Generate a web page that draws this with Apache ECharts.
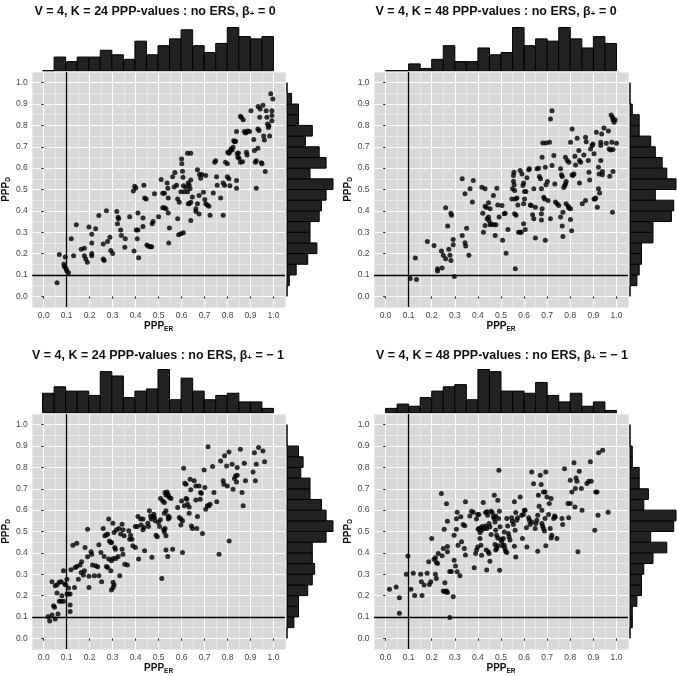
<!DOCTYPE html>
<html>
<head>
<meta charset="utf-8">
<script src="https://cdn.jsdelivr.net/npm/echarts@6/dist/echarts.min.js"></script>
<style>html,body{margin:0;padding:0;background:#fff}#chart{width:677px;height:676px}</style>
</head>
<body>
<div id="chart"></div>
<script>
// 4 panels: PPP_ER (x) vs PPP_D (y) with marginal histograms
var titles = [
  'V = 4, K = 24 PPP-values : no ERS, β{s|+} = 0',
  'V = 4, K = 48 PPP-values : no ERS, β{s|+} = 0',
  'V = 4, K = 24 PPP-values : no ERS, β{s|+} = − 1',
  'V = 4, K = 48 PPP-values : no ERS, β{s|+} = − 1'
];
var tickValues = [0, 0.1, 0.2, 0.3, 0.4, 0.5, 0.6, 0.7, 0.8, 0.9, 1.0];
var refLine = 0.1;

// top histograms: counts per 0.05 bin of PPP_ER (0..1)
var topHist1 = [0, 6, 4, 6, 6, 9, 7, 5, 13, 7, 11, 14, 18, 11, 8, 12, 19, 15, 14, 15];
var topHist2 = [0, 0, 3, 1, 5, 11, 4, 4, 10, 7, 8, 19, 11, 14, 13, 19, 14, 10, 15, 12];
var topHist3 = [9, 12, 10, 10, 8, 19, 17, 7, 10, 11, 20, 6, 16, 10, 6, 8, 9, 5, 5, 2];
var topHist4 = [2, 4, 3, 7, 10, 12, 13, 6, 20, 19, 10, 10, 9, 14, 8, 5, 9, 3, 5, 1];
// right histograms: counts per 0.05 bin of PPP_D (0..1)
var rightHist1 = [0, 1, 4, 9, 13, 10, 10, 14, 15, 17, 20, 10, 17, 14, 8, 11, 5, 5, 2, 0];
var rightHist2 = [0, 3, 4, 5, 5, 10, 10, 18, 19, 11, 20, 16, 14, 11, 9, 4, 4, 1, 0, 0];
var rightHist3 = [0, 3, 5, 5, 9, 11, 12, 11, 11, 17, 20, 17, 15, 10, 10, 6, 7, 5, 0, 0];
var rightHist4 = [0, 1, 1, 3, 5, 5, 6, 10, 16, 9, 19, 20, 6, 8, 4, 4, 1, 1, 0, 0];

var pts1 = [
[0.058,0.064],[0.068,0.196],[0.094,0.184],[0.088,0.15],[0.09,0.14],[0.097,0.13],[0.1,0.12],[0.108,0.11],
[0.12,0.27],[0.13,0.19],[0.142,0.335],[0.163,0.22],[0.177,0.225],[0.177,0.19],[0.183,0.175],[0.19,0.16],
[0.197,0.324],[0.209,0.29],[0.209,0.25],[0.209,0.2],[0.209,0.19],[0.226,0.316],[0.24,0.378],
[0.259,0.245],[0.259,0.175],[0.263,0.168],[0.273,0.4],[0.278,0.257],[0.288,0.276],[0.292,0.214],[0.3,0.2],
[0.318,0.397],[0.324,0.37],[0.326,0.363],[0.321,0.34],[0.335,0.31],[0.338,0.285],[0.355,0.27],[0.353,0.23],
[0.374,0.372],[0.393,0.212],[0.39,0.493],[0.396,0.515],[0.401,0.507],[0.403,0.31],[0.407,0.27],[0.41,0.31],
[0.41,0.39],[0.413,0.18],[0.432,0.367],[0.432,0.327],[0.436,0.52],[0.439,0.46],[0.446,0.455],[0.449,0.24],
[0.456,0.234],[0.465,0.232],[0.47,0.232],[0.472,0.34],[0.476,0.35],[0.482,0.48],[0.5,0.372],
[0.511,0.547],[0.518,0.483],[0.525,0.483],[0.518,0.414],[0.525,0.414],[0.532,0.41],[0.537,0.53],[0.54,0.506],
[0.542,0.46],[0.542,0.39],[0.547,0.32],[0.544,0.25],
[0.561,0.56],[0.568,0.512],[0.571,0.58],[0.578,0.52],[0.583,0.456],[0.583,0.363],[0.587,0.288],[0.597,0.293],[0.608,0.298],
[0.6,0.643],[0.601,0.62],[0.604,0.585],[0.606,0.557],[0.608,0.517],[0.611,0.49],[0.597,0.49],[0.59,0.44],
[0.618,0.51],[0.626,0.49],[0.629,0.53],[0.633,0.52],[0.637,0.505],[0.64,0.545],
[0.626,0.67],[0.64,0.67],[0.629,0.433],[0.633,0.433],[0.64,0.44],[0.64,0.355],[0.647,0.465],
[0.662,0.41],[0.669,0.433],[0.662,0.397],[0.669,0.593],[0.678,0.57],[0.683,0.553],[0.688,0.57],[0.676,0.472],[0.676,0.385],
[0.695,0.487],[0.701,0.453],[0.705,0.565],[0.705,0.433],[0.712,0.428],[0.719,0.422],[0.724,0.38],
[0.738,0.484],[0.744,0.628],[0.748,0.635],[0.752,0.56],[0.755,0.52],[0.77,0.46],[0.781,0.38],[0.781,0.53],[0.787,0.52],
[0.791,0.628],[0.799,0.62],[0.801,0.674],[0.806,0.67],[0.81,0.678],[0.799,0.56],[0.806,0.55],[0.81,0.518],
[0.815,0.69],[0.82,0.685],[0.824,0.698],[0.827,0.728],[0.831,0.724],[0.835,0.726],[0.839,0.771],
[0.842,0.667],[0.845,0.651],[0.847,0.671],[0.85,0.646],[0.839,0.542],[0.839,0.506],[0.856,0.628],[0.865,0.63],
[0.856,0.843],[0.86,0.838],[0.868,0.827],[0.873,0.771],[0.878,0.765],[0.882,0.768],[0.888,0.774],[0.896,0.771],
[0.882,0.674],[0.885,0.662],[0.902,0.869],[0.914,0.734],[0.917,0.682],[0.921,0.628],[0.925,0.635],[0.925,0.506],
[0.932,0.693],[0.932,0.783],[0.937,0.776],[0.933,0.889],[0.94,0.838],[0.942,0.877],[0.947,0.625],[0.95,0.62],
[0.954,0.894],[0.957,0.75],[0.96,0.732],[0.964,0.584],[0.968,0.869],[0.971,0.838],[0.974,0.807],[0.978,0.79],[0.98,0.798],[0.983,0.751],
[0.993,0.869],[0.993,0.846],[0.993,0.822],[0.997,0.924],[0.988,0.948]
];

var pts2 = [
[0.107,0.083],[0.134,0.079],[0.129,0.179],[0.181,0.257],[0.21,0.238],[0.225,0.129],[0.225,0.118],[0.245,0.132],
[0.242,0.212],[0.25,0.192],[0.26,0.176],[0.26,0.414],[0.269,0.329],[0.274,0.22],[0.279,0.192],[0.283,0.168],
[0.283,0.389],[0.286,0.379],[0.293,0.266],[0.293,0.241],[0.298,0.093],[0.332,0.55],[0.332,0.285],[0.344,0.48],
[0.344,0.251],[0.347,0.235],[0.351,0.319],[0.366,0.503],[0.361,0.192],[0.376,0.441],[0.38,0.542],[0.417,0.511],
[0.431,0.503],[0.421,0.389],[0.424,0.3],[0.431,0.332],[0.431,0.422],[0.437,0.416],[0.44,0.363],[0.446,0.371],
[0.448,0.355],[0.453,0.335],[0.457,0.34],[0.446,0.438],[0.453,0.41],[0.467,0.472],[0.469,0.335],[0.478,0.335],
[0.475,0.285],[0.482,0.506],[0.486,0.428],[0.492,0.371],[0.504,0.425],[0.507,0.262],[0.514,0.386],[0.518,0.389],
[0.522,0.202],[0.53,0.313],[0.547,0.456],[0.55,0.503],[0.554,0.539],[0.554,0.565],[0.556,0.581],[0.557,0.522],
[0.559,0.495],[0.562,0.456],[0.562,0.129],[0.559,0.386],[0.565,0.379],[0.569,0.46],[0.573,0.428],[0.576,0.3],
[0.582,0.3],[0.588,0.3],[0.583,0.589],[0.591,0.573],[0.595,0.519],[0.598,0.531],[0.602,0.491],[0.608,0.491],
[0.602,0.456],[0.598,0.433],[0.598,0.34],[0.605,0.313],[0.612,0.555],[0.62,0.593],[0.623,0.597],[0.627,0.428],
[0.631,0.425],[0.637,0.382],[0.642,0.363],[0.642,0.503],[0.649,0.273],[0.649,0.417],[0.656,0.597],[0.663,0.6],
[0.666,0.561],[0.671,0.55],[0.675,0.503],[0.678,0.41],[0.675,0.386],[0.675,0.357],[0.678,0.651],[0.681,0.718],
[0.695,0.718],[0.685,0.464],[0.689,0.456],[0.692,0.604],[0.695,0.522],[0.701,0.537],[0.692,0.262],[0.704,0.449],
[0.71,0.721],[0.714,0.83],[0.721,0.869],[0.714,0.363],[0.721,0.612],[0.729,0.659],[0.733,0.526],[0.736,0.441],
[0.743,0.433],[0.75,0.425],[0.758,0.597],[0.762,0.569],[0.765,0.561],[0.758,0.371],[0.768,0.394],[0.765,0.329],
[0.768,0.28],[0.772,0.509],[0.776,0.519],[0.779,0.526],[0.782,0.537],[0.779,0.651],[0.787,0.636],[0.794,0.628],
[0.782,0.433],[0.791,0.422],[0.794,0.413],[0.801,0.41],[0.801,0.721],[0.808,0.783],[0.801,0.36],[0.806,0.307],
[0.808,0.569],[0.811,0.565],[0.816,0.573],[0.82,0.656],[0.823,0.615],[0.83,0.74],[0.837,0.682],[0.84,0.636],
[0.845,0.628],[0.84,0.531],[0.852,0.433],[0.866,0.449],[0.859,0.662],[0.866,0.745],[0.869,0.724],[0.878,0.636],
[0.881,0.581],[0.884,0.545],[0.888,0.69],[0.895,0.706],[0.898,0.713],[0.903,0.667],[0.903,0.456],[0.907,0.456],
[0.91,0.46],[0.913,0.768],[0.917,0.417],[0.922,0.503],[0.927,0.484],[0.922,0.604],[0.925,0.573],[0.932,0.706],
[0.932,0.721],[0.932,0.636],[0.936,0.76],[0.939,0.569],[0.939,0.584],[0.946,0.788],[0.956,0.717],[0.965,0.774],
[0.968,0.69],[0.975,0.685],[0.971,0.562],[0.977,0.849],[0.983,0.838],[0.985,0.827],[0.99,0.815],[0.994,0.827],
[0.98,0.721],[0.985,0.687],[0.983,0.394],[0.985,0.584],[1.0,0.717]
];

var pts3 = [
[0.019,0.101],[0.026,0.081],[0.036,0.109],[0.05,0.09],[0.062,0.114],[0.036,0.265],[0.043,0.153],[0.047,0.145],
[0.05,0.246],[0.058,0.251],[0.058,0.212],[0.068,0.262],[0.076,0.265],[0.068,0.173],[0.076,0.173],[0.086,0.173],
[0.079,0.199],[0.086,0.316],[0.091,0.254],[0.096,0.251],[0.101,0.277],[0.101,0.207],[0.108,0.207],[0.115,0.207],
[0.108,0.235],[0.115,0.156],[0.115,0.125],[0.119,0.321],[0.127,0.436],[0.144,0.445],[0.134,0.238],[0.137,0.332],
[0.144,0.336],[0.151,0.277],[0.158,0.343],[0.165,0.358],[0.163,0.308],[0.173,0.296],[0.177,0.316],[0.18,0.425],
[0.191,0.511],[0.191,0.382],[0.197,0.29],[0.197,0.238],[0.206,0.405],[0.209,0.394],[0.212,0.343],[0.22,0.293],
[0.226,0.34],[0.235,0.335],[0.24,0.438],[0.24,0.293],[0.249,0.402],[0.252,0.265],[0.259,0.514],[0.266,0.48],
[0.273,0.484],[0.278,0.488],[0.263,0.383],[0.273,0.336],[0.278,0.332],[0.283,0.558],[0.286,0.456],[0.292,0.449],
[0.295,0.449],[0.283,0.371],[0.295,0.363],[0.302,0.374],[0.292,0.316],[0.302,0.262],[0.306,0.249],[0.295,0.226],
[0.302,0.238],[0.301,0.539],[0.306,0.495],[0.309,0.425],[0.312,0.417],[0.317,0.508],[0.314,0.374],[0.324,0.383],
[0.327,0.514],[0.331,0.293],[0.335,0.488],[0.341,0.534],[0.345,0.508],[0.35,0.48],[0.341,0.417],[0.345,0.394],
[0.353,0.347],[0.364,0.343],[0.37,0.503],[0.374,0.464],[0.378,0.483],[0.384,0.464],[0.388,0.433],[0.399,0.425],
[0.399,0.523],[0.407,0.523],[0.41,0.57],[0.413,0.371],[0.422,0.558],[0.424,0.53],[0.432,0.508],[0.436,0.519],
[0.432,0.558],[0.439,0.41],[0.453,0.539],[0.456,0.523],[0.46,0.597],[0.465,0.573],[0.468,0.558],[0.471,0.379],
[0.475,0.57],[0.479,0.581],[0.482,0.565],[0.485,0.55],[0.489,0.483],[0.494,0.475],[0.499,0.542],[0.504,0.523],
[0.508,0.555],[0.508,0.654],[0.518,0.643],[0.522,0.508],[0.525,0.498],[0.528,0.514],[0.514,0.28],[0.525,0.636],
[0.528,0.682],[0.532,0.671],[0.537,0.685],[0.54,0.674],[0.542,0.667],[0.547,0.659],[0.554,0.654],[0.525,0.586],
[0.532,0.597],[0.532,0.48],[0.532,0.413],[0.54,0.383],[0.542,0.573],[0.542,0.558],[0.547,0.565],[0.561,0.417],
[0.583,0.612],[0.59,0.565],[0.597,0.558],[0.604,0.55],[0.597,0.53],[0.6,0.643],[0.604,0.402],[0.609,0.796],
[0.612,0.62],[0.614,0.726],[0.619,0.721],[0.619,0.654],[0.623,0.651],[0.626,0.628],[0.633,0.615],[0.633,0.586],
[0.637,0.745],[0.64,0.695],[0.643,0.526],[0.647,0.514],[0.655,0.737],[0.662,0.713],[0.662,0.648],[0.666,0.514],
[0.669,0.57],[0.676,0.713],[0.681,0.651],[0.683,0.682],[0.686,0.679],[0.691,0.491],[0.698,0.788],[0.701,0.706],
[0.705,0.604],[0.712,0.62],[0.719,0.62],[0.724,0.628],[0.715,0.897],[0.735,0.804],[0.741,0.682],[0.753,0.639],
[0.763,0.394],[0.77,0.83],[0.781,0.737],[0.784,0.721],[0.787,0.854],[0.796,0.807],[0.799,0.713],[0.806,0.872],
[0.807,0.456],[0.82,0.815],[0.824,0.698],[0.83,0.748],[0.835,0.76],[0.839,0.732],[0.842,0.763],[0.842,0.799],
[0.856,0.885],[0.863,0.682],[0.868,0.62],[0.873,0.819],[0.878,0.737],[0.911,0.779],[0.917,0.869],[0.921,0.737],
[0.925,0.815],[0.935,0.893],[0.954,0.877],[0.961,0.827]
];

var pts4 = [
[0.017,0.23],[0.046,0.24],[0.06,0.19],[0.06,0.117],[0.09,0.3],[0.097,0.385],[0.11,0.23],[0.12,0.304],[0.126,0.2],
[0.152,0.3],[0.155,0.265],[0.158,0.2],[0.167,0.25],[0.18,0.304],[0.187,0.358],[0.19,0.252],[0.196,0.265],[0.2,0.467],
[0.21,0.37],[0.216,0.377],[0.22,0.355],[0.225,0.35],[0.216,0.3],[0.22,0.28],[0.228,0.397],[0.242,0.678],[0.245,0.386],[0.25,0.42],
[0.25,0.221],[0.257,0.218],[0.264,0.221],[0.268,0.215],[0.254,0.51],[0.257,0.26],[0.264,0.63],[0.268,0.548],[0.268,0.43],[0.268,0.405],
[0.278,0.313],[0.285,0.313],[0.278,0.097],[0.293,0.195],[0.297,0.366],[0.297,0.483],[0.303,0.338],[0.307,0.51],[0.307,0.56],[0.31,0.59],
[0.31,0.312],[0.314,0.436],[0.322,0.293],[0.326,0.569],[0.329,0.452],[0.336,0.533],[0.343,0.527],[0.341,0.421],[0.346,0.39],[0.346,0.639],
[0.365,0.573],[0.372,0.595],[0.38,0.59],[0.384,0.33],[0.39,0.397],[0.394,0.413],[0.399,0.428],[0.394,0.558],[0.399,0.58],[0.404,0.58],
[0.401,0.511],[0.404,0.514],[0.409,0.495],[0.413,0.517],[0.416,0.506],[0.419,0.523],[0.409,0.467],[0.413,0.436],[0.416,0.389],
[0.423,0.636],[0.428,0.514],[0.433,0.526],[0.436,0.413],[0.439,0.514],[0.433,0.589],[0.439,0.592],[0.442,0.576],[0.438,0.32],
[0.448,0.537],[0.452,0.522],[0.457,0.486],[0.445,0.405],[0.448,0.397],[0.452,0.361],[0.457,0.595],[0.462,0.589],
[0.467,0.569],[0.471,0.561],[0.474,0.545],[0.477,0.573],[0.471,0.67],[0.474,0.439],[0.477,0.413],[0.481,0.421],[0.486,0.433],
[0.477,0.506],[0.481,0.483],[0.486,0.47],[0.486,0.646],[0.49,0.561],[0.493,0.595],[0.491,0.787],[0.494,0.319],
[0.496,0.522],[0.5,0.464],[0.503,0.452],[0.506,0.433],[0.51,0.467],[0.514,0.436],[0.514,0.498],[0.517,0.421],[0.52,0.408],[0.525,0.402],
[0.525,0.561],[0.529,0.526],[0.532,0.491],[0.535,0.475],[0.539,0.46],[0.546,0.564],[0.549,0.548],[0.554,0.533],
[0.558,0.431],[0.558,0.639],[0.561,0.506],[0.564,0.381],[0.564,0.589],[0.568,0.553],[0.572,0.564],
[0.583,0.662],[0.59,0.576],[0.593,0.467],[0.597,0.579],[0.601,0.6],[0.604,0.6],[0.612,0.428],
[0.62,0.564],[0.623,0.553],[0.626,0.533],[0.61,0.517],[0.633,0.545],[0.633,0.779],[0.641,0.724],
[0.648,0.514],[0.651,0.537],[0.655,0.553],[0.659,0.576],[0.659,0.408],[0.662,0.67],[0.665,0.618],[0.67,0.763],[0.674,0.72],[0.677,0.6],
[0.677,0.537],[0.68,0.526],[0.684,0.514],[0.688,0.502],[0.691,0.561],[0.684,0.685],[0.691,0.685],[0.694,0.779],[0.694,0.433],
[0.699,0.662],[0.706,0.579],[0.709,0.631],[0.713,0.514],[0.717,0.654],[0.717,0.47],[0.72,0.483],[0.728,0.561],[0.732,0.573],[0.735,0.568],[0.742,0.467],
[0.764,0.561],[0.767,0.533],[0.775,0.794],[0.79,0.631],[0.793,0.564],[0.8,0.631],[0.8,0.74],[0.807,0.685],
[0.816,0.822],[0.82,0.615],[0.822,0.701],[0.825,0.75],[0.829,0.735],[0.833,0.405],[0.839,0.782],[0.848,0.701],[0.851,0.6],
[0.872,0.725],[0.88,0.735],[0.887,0.826],[0.891,0.735],[0.906,0.506],[0.91,0.685],[0.916,0.685],[0.92,0.576],[0.923,0.869],[0.94,0.88],[0.964,0.59]
];

var FONT = 'Liberation Sans, Arial, sans-serif';
var panels = [
  { pts: pts1, top: topHist1, right: rightHist1, left: 31, ptop: 72, titleX: 150, titleY: 0 },
  { pts: pts2, top: topHist2, right: rightHist2, left: 374, ptop: 72, titleX: 491, titleY: 0 },
  { pts: pts3, top: topHist3, right: rightHist3, left: 31, ptop: 414, titleX: 153, titleY: 344 },
  { pts: pts4, top: topHist4, right: rightHist4, left: 374, ptop: 414, titleX: 497, titleY: 344 }
];
var PW = 254, PH = 235;

function histData(counts) {
  return counts.map(function (c, i) { return [i * 0.05, (i + 1) * 0.05, c]; });
}
var barStyle = { fill: '#222', stroke: '#000', lineWidth: 1 };

var option = { animation: false, title: [], grid: [], xAxis: [], yAxis: [], series: [] };

panels.forEach(function (p, k) {
  var g = 3 * k, a = 4 * k;
  option.title.push({
    text: titles[k], left: p.titleX, top: p.titleY, textAlign: 'center',
    textStyle: { fontFamily: FONT, fontSize: 12.5, fontWeight: 'bold', color: '#111',
      rich: { s: { fontFamily: FONT, fontSize: 8, fontWeight: 'bold', color: '#111', padding: [5, 0, 0, 0] } } }
  });
  option.grid.push(
    { left: p.left, top: p.ptop, width: PW, height: PH, show: true, backgroundColor: '#d9d9d9', borderWidth: 0 },
    { left: p.left, top: p.ptop - 44.5, width: PW, height: 43.2 },
    { left: p.left + PW + 2, top: p.ptop, width: 46, height: PH }
  );
  var gridLines = { show: true, lineStyle: { color: ['#e9e9e9', '#ffffff'], width: 1 } };
  var nameRich = { m: { fontFamily: FONT, fontSize: 10, fontWeight: 'bold', color: '#111' },
                   s: { fontFamily: FONT, fontSize: 6.5, fontWeight: 'bold', color: '#111', padding: [5, 0, 0, 0] } };
  var lab = { customValues: tickValues, formatter: function (v) { return v.toFixed(1); },
              fontFamily: FONT, fontSize: 8.5, color: '#444', margin: 4.5 };
  var tick = { show: true, customValues: tickValues, length: 2.5, lineStyle: { color: '#333' } };
  option.xAxis.push(
    { gridIndex: g, type: 'value', min: -0.05, max: 1.05, interval: 0.05, axisLine: { show: false },
      axisTick: { show: false }, axisLabel: { show: false }, splitLine: gridLines },
    { gridIndex: g, type: 'value', min: -0.05, max: 1.05, position: 'bottom', axisLine: { show: false },
      axisTick: tick, axisLabel: lab, splitLine: { show: false },
      name: '{m|PPP}{s|ER}', nameLocation: 'middle', nameGap: 12, nameTextStyle: { rich: nameRich } },
    { gridIndex: g + 1, type: 'value', min: -0.05, max: 1.05, show: false },
    { gridIndex: g + 2, type: 'value', min: 0, max: Math.max.apply(null, p.right), show: false }
  );
  option.yAxis.push(
    { gridIndex: g, type: 'value', min: -0.05, max: 1.05, interval: 0.05, axisLine: { show: false },
      axisTick: { show: false }, axisLabel: { show: false }, splitLine: gridLines },
    { gridIndex: g, type: 'value', min: -0.05, max: 1.05, position: 'left', axisLine: { show: false },
      axisTick: tick, axisLabel: lab, splitLine: { show: false },
      name: '{m|PPP}{s|D}', nameLocation: 'middle', nameGap: 19, nameTextStyle: { rich: nameRich } },
    { gridIndex: g + 1, type: 'value', min: 0, max: Math.max.apply(null, p.top), show: false },
    { gridIndex: g + 2, type: 'value', min: -0.05, max: 1.05, show: false }
  );
  option.series.push(
    { type: 'scatter', xAxisIndex: a, yAxisIndex: a, data: p.pts, symbolSize: 5, silent: true,
      itemStyle: { color: '#000' },
      markLine: { silent: true, symbol: 'none', label: { show: false }, animation: false,
        lineStyle: { color: '#000', width: 1.3, type: 'solid' },
        data: [{ xAxis: refLine }, { yAxis: refLine }] } },
    { type: 'custom', xAxisIndex: a + 2, yAxisIndex: a + 2, data: histData(p.top), silent: true,
      encode: { x: [0, 1], y: 2 },
      renderItem: function (params, api) {
        var p0 = api.coord([api.value(0), api.value(2)]);
        var p1 = api.coord([api.value(1), 0]);
        return { type: 'rect', shape: { x: p0[0], y: p0[1], width: p1[0] - p0[0], height: p1[1] - p0[1] }, style: barStyle };
      } },
    { type: 'custom', xAxisIndex: a + 3, yAxisIndex: a + 3, data: histData(p.right), silent: true,
      encode: { y: [0, 1], x: 2 },
      renderItem: function (params, api) {
        var p0 = api.coord([0, api.value(1)]);
        var p1 = api.coord([api.value(2), api.value(0)]);
        return { type: 'rect', shape: { x: p0[0], y: p0[1], width: p1[0] - p0[0], height: p1[1] - p0[1] }, style: barStyle };
      } }
  );
});

var chart = echarts.init(document.getElementById('chart'));
chart.setOption(option);
</script>
</body>
</html>
